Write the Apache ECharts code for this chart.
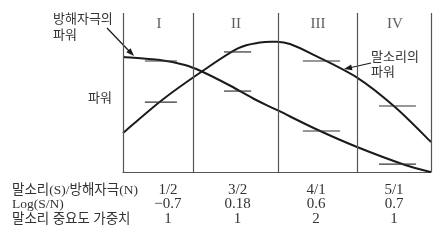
<!DOCTYPE html>
<html><head><meta charset="utf-8">
<script src="https://cdn.jsdelivr.net/npm/echarts@6/dist/echarts.min.js"></script>
<style>html,body{margin:0;padding:0;background:#fff}#c{width:446px;height:241px}</style>
</head><body><div id="c"></div>
<script>
// band edges (x units) for columns I..IV
const bandEdges = [0, 2.27, 5.03, 7.6, 10];
const romanLabels = ['I', 'II', 'III', 'IV'];
const romanX = [1.17, 3.67, 6.33, 8.83];
const romanY = 93;
// noise power curve
const noiseX = [0, 1.2, 2.01, 2.56, 3.47, 4.29, 5.03, 6.33, 7.60, 9.16, 10];
const noiseY = [72.3, 70.4, 67.3, 63.2, 54.4, 45.6, 38.7, 26.4, 15.7, 4.4, 0];
// speech power curve
const speechX = [0, 1.27, 2.56, 3.73, 4.45, 4.94, 5.42, 6.14, 7.60, 8.83, 10];
const speechY = [24.5, 45.3, 63.2, 77.7, 81.4, 81.9, 80.5, 74.2, 59.4, 40.9, 18.9];
// short level marks per column
const levelStart = [0.71, 3.28, 5.84, 8.31];
const levelEnd = [1.75, 4.16, 7.05, 9.51];
const levelUpper = [69.8, 75.5, 69.8, 41.5];
const levelLower = [44.0, 50.9, 25.8, 5.0];
// table below
const rowLabels = ['말소리(S)/방해자극(N)', 'Log(S/N)', '말소리 중요도 가중치'];
const tableX = [1.46, 3.72, 6.27, 8.8];
const snRatio = ['1/2', '3/2', '4/1', '5/1'];
const logSN = ['\u22120.7', '0.18', '0.6', '0.7'];
const weights = ['1', '1', '2', '1'];

const chart = echarts.init(document.getElementById('c'));
const zip = (a, b) => a.map((v, i) => [v, b[i]]);
const levelData = [];
levelStart.forEach((s, i) => { levelData.push([s, levelEnd[i], levelUpper[i]]); levelData.push([s, levelEnd[i], levelLower[i]]); });
const fontMix = '"Liberation Serif", "Noto Sans CJK KR", serif';

// smooth curve (Catmull-Rom) through data points, in pixel space via api.coord
function curveSeries(xs, ys) {
  return {
    type: 'custom', data: zip(xs, ys), encode: { x: 0, y: 1 },
    renderItem: (params, api) => {
      if (params.dataIndex !== 0) return null;
      const p = xs.map((x, i) => api.coord([x, ys[i]]));
      let d = 'M' + p[0][0] + ' ' + p[0][1];
      const t = 0.5;
      for (let i = 0; i < p.length - 1; i++) {
        const p0 = p[i - 1] || p[i], p1 = p[i], p2 = p[i + 1], p3 = p[i + 2] || p[i + 1];
        const c1 = [p1[0] + (p2[0] - p0[0]) * t / 3, p1[1] + (p2[1] - p0[1]) * t / 3];
        const c2 = [p2[0] - (p3[0] - p1[0]) * t / 3, p2[1] - (p3[1] - p1[1]) * t / 3];
        d += ' C' + c1[0] + ' ' + c1[1] + ' ' + c2[0] + ' ' + c2[1] + ' ' + p2[0] + ' ' + p2[1];
      }
      return { type: 'path', shape: { pathData: d }, style: { stroke: '#1a1a1a', lineWidth: 2, fill: null } };
    }
  };
}

chart.setOption({
  animation: false,
  grid: { left: 123, right: 15, top: 13, bottom: 69 },
  xAxis: { type: 'value', min: 0, max: 10, axisLine: { show: true, lineStyle: { color: '#555', width: 1.2 } },
    axisTick: { show: false }, axisLabel: { show: false }, splitLine: { show: false } },
  yAxis: { type: 'value', min: 0, max: 100, show: false },
  series: [
    { type: 'line', data: [], symbol: 'none',
      markLine: { silent: true, symbol: ['none', 'none'], label: { show: false },
        lineStyle: { color: '#555', type: 'solid', width: 1.2 }, data: bandEdges.map(e => ({ xAxis: e })) } },
    curveSeries(noiseX, noiseY),
    curveSeries(speechX, speechY),
    { type: 'custom', data: levelData, encode: { x: [0, 1], y: 2 },
      renderItem: (params, api) => {
        const p1 = api.coord([api.value(0), api.value(2)]);
        const p2 = api.coord([api.value(1), api.value(2)]);
        return { type: 'line', shape: { x1: p1[0], y1: p1[1], x2: p2[0], y2: p2[1] }, style: { stroke: '#333', lineWidth: 1.2 } };
      } },
    { type: 'scatter', symbolSize: 0, data: romanX.map((x, i) => ({ value: [x, romanY], name: romanLabels[i] })),
      label: { show: true, position: 'inside', formatter: p => p.name, color: '#333',
        fontFamily: '"Liberation Serif", serif', fontSize: 15 } }
  ]
});

const g = [];
const txt = (x, y, s, align, size) => g.push({ type: 'text', x: x, y: y,
  style: { text: s, fill: '#333', font: (size || 13) + 'px ' + fontMix, textAlign: align || 'left', textVerticalAlign: 'middle' } });
const rowsY = [190, 204.5, 219];
const rows = [snRatio, logSN, weights];
rowLabels.forEach((l, i) => txt(12, rowsY[i], l, 'left', 13.5));
rows.forEach((r, i) => r.forEach((v, j) => {
  const px = chart.convertToPixel({ gridIndex: 0 }, [tableX[j], 0])[0];
  txt(px, rowsY[i], v, 'center', 15);
}));
txt(53, 20, '방해자극의'); txt(53, 36, '파워');
txt(88, 99, '파워');
txt(371, 58, '말소리의'); txt(371, 73, '파워');
// arrows
g.push({ type: 'line', shape: { x1: 107, y1: 28, x2: 130, y2: 52 }, style: { stroke: '#1a1a1a', lineWidth: 1.2 } });
g.push({ type: 'polygon', shape: { points: [[134, 56], [126.3, 52.3], [130.6, 48.2]] }, style: { fill: '#1a1a1a' } });
g.push({ type: 'line', shape: { x1: 371, y1: 63, x2: 349, y2: 68 }, style: { stroke: '#1a1a1a', lineWidth: 1.2 } });
g.push({ type: 'polygon', shape: { points: [[344, 69], [351.15, 64.4], [352.45, 70.2]] }, style: { fill: '#1a1a1a' } });
chart.setOption({ graphic: g });
</script></body></html>
